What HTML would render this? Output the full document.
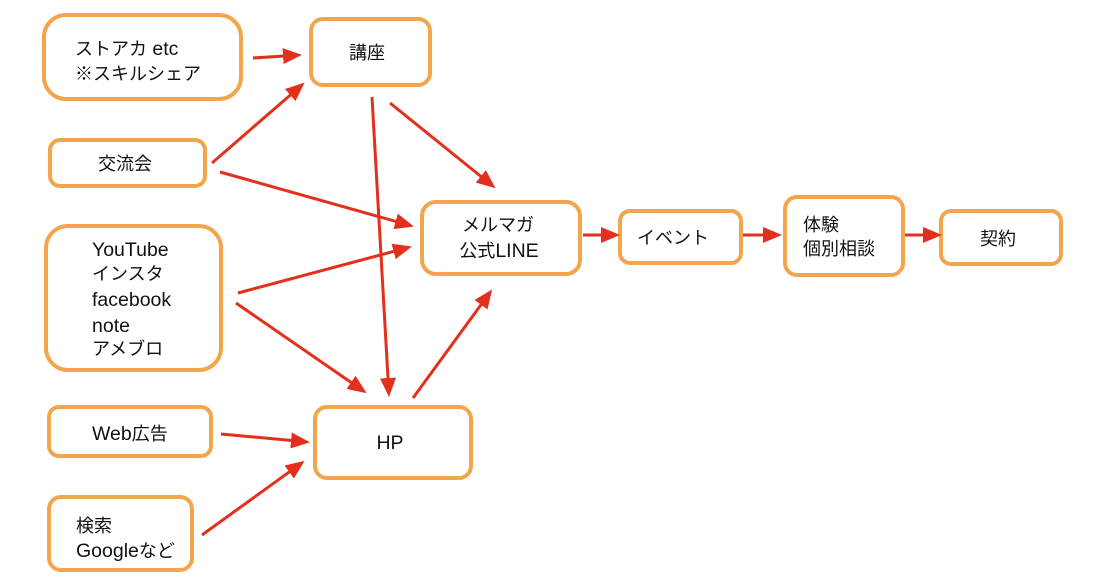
<!DOCTYPE html>
<html>
<head>
<meta charset="utf-8">
<style>
html,body{margin:0;padding:0;background:#fff;}
svg{display:block;}
text{font-family:"Liberation Sans","Noto Sans CJK JP",sans-serif;font-size:18px;fill:#111;}
.l{font-size:19.5px;}
</style>
</head>
<body>
<svg width="1105" height="588" viewBox="0 0 1105 588" xmlns="http://www.w3.org/2000/svg">
<defs>
<marker id="ah" markerUnits="userSpaceOnUse" markerWidth="19" markerHeight="16" refX="9" refY="8" orient="auto">
<path d="M0,0 L19,8 L0,16 z" fill="#e3301c"/>
</marker>
</defs>
<g fill="#fff" stroke="#f2a54a" stroke-width="4">
<rect x="44" y="15" width="197" height="84" rx="22"/>
<rect x="311" y="19" width="119" height="66" rx="12"/>
<rect x="50" y="140" width="155" height="46" rx="10"/>
<rect x="46" y="226" width="175" height="144" rx="22"/>
<rect x="49" y="407" width="162" height="49" rx="10"/>
<rect x="49" y="497" width="143" height="73" rx="12"/>
<rect x="315" y="407" width="156" height="71" rx="12"/>
<rect x="422" y="202" width="158" height="72" rx="14"/>
<rect x="620" y="211" width="121" height="52" rx="10"/>
<rect x="785" y="197" width="118" height="78" rx="12"/>
<rect x="941" y="211" width="120" height="53" rx="10"/>
</g>
<g stroke="#e3301c" stroke-width="3" fill="none" marker-end="url(#ah)">
<line x1="253" y1="58" x2="292" y2="55.5"/>
<line x1="212" y1="163" x2="297" y2="89.2"/>
<line x1="220" y1="172" x2="404.3" y2="223.8"/>
<line x1="238" y1="293" x2="402.3" y2="249.1"/>
<line x1="236" y1="303" x2="358.4" y2="387.5"/>
<line x1="372" y1="97" x2="388.5" y2="387"/>
<line x1="390" y1="103" x2="487.8" y2="182"/>
<line x1="413" y1="398" x2="486.3" y2="297.5"/>
<line x1="221" y1="434" x2="300" y2="441.3"/>
<line x1="202" y1="535" x2="296.5" y2="466.7"/>
<line x1="583" y1="235" x2="610" y2="235"/>
<line x1="743" y1="235" x2="772" y2="235"/>
<line x1="905" y1="235" x2="932" y2="235"/>
</g>
<text x="75" y="55">ストアカ<tspan class="l"> etc</tspan></text>
<text x="75" y="80">※スキルシェア</text>
<text x="367" y="59" text-anchor="middle">講座</text>
<text x="125" y="170" text-anchor="middle">交流会</text>
<text x="92" y="256" class="l">YouTube</text>
<text x="92" y="280">インスタ</text>
<text x="92" y="306" class="l">facebook</text>
<text x="92" y="332" class="l">note</text>
<text x="92" y="355">アメブロ</text>
<text x="92" y="440"><tspan class="l">Web</tspan>広告</text>
<text x="76" y="532">検索</text>
<text x="76" y="557"><tspan class="l">Google</tspan>など</text>
<text x="390" y="449" text-anchor="middle" class="l">HP</text>
<text x="498" y="231" text-anchor="middle">メルマガ</text>
<text x="499" y="257" text-anchor="middle">公式<tspan class="l">LINE</tspan></text>
<text x="673" y="244" text-anchor="middle">イベント</text>
<text x="803" y="231">体験</text>
<text x="803" y="255">個別相談</text>
<text x="998" y="245" text-anchor="middle">契約</text>
</svg>
</body>
</html>
